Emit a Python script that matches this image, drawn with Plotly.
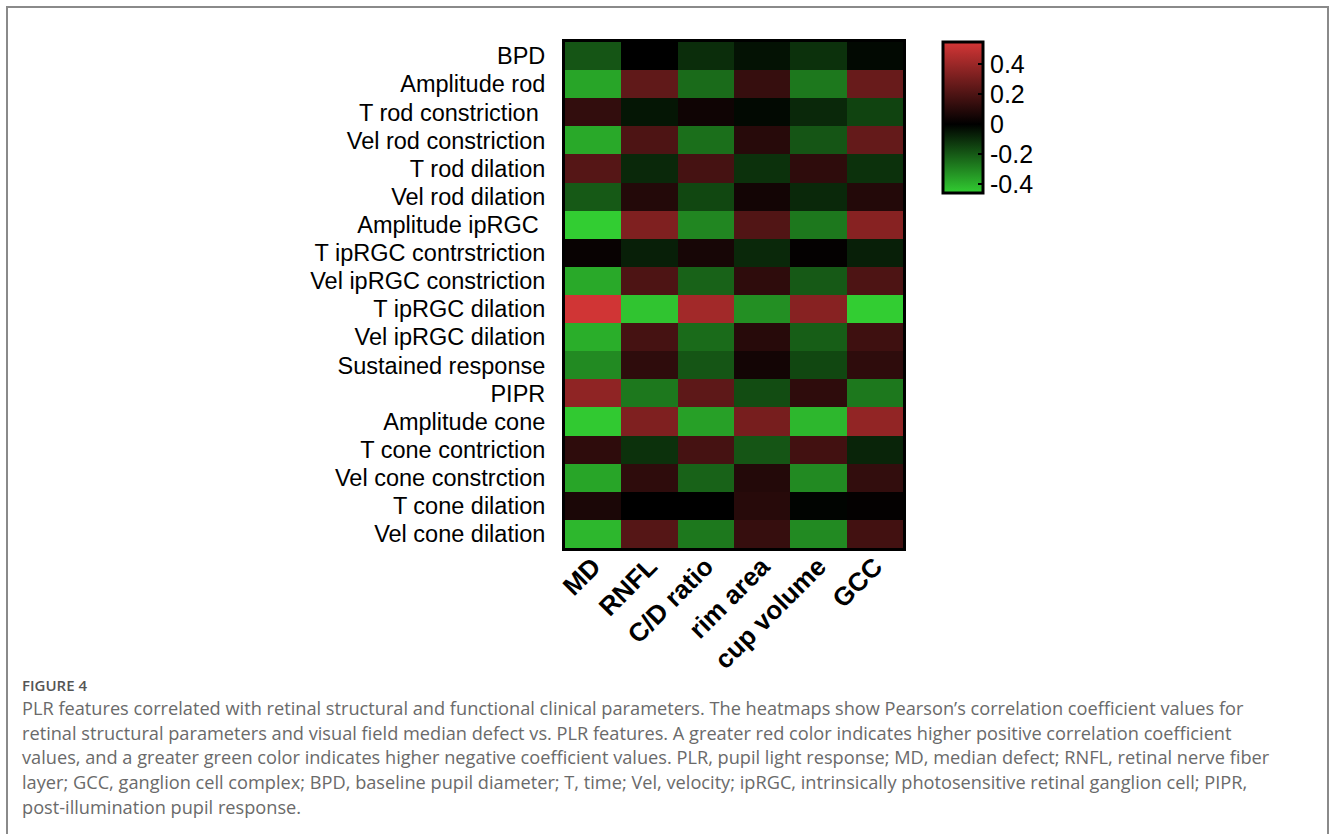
import plotly.graph_objects as go

# ---------------- data ----------------
features = [
    "BPD", "Amplitude rod", "T rod constriction\u00a0", "Vel rod constriction",
    "T rod dilation", "Vel rod dilation", "Amplitude ipRGC\u00a0", "T ipRGC contrstriction",
    "Vel ipRGC constriction", "T ipRGC dilation", "Vel ipRGC dilation", "Sustained response",
    "PIPR", "Amplitude cone", "T cone contriction", "Vel cone constrction",
    "T cone dilation", "Vel cone dilation",
]
params = ["MD", "RNFL", "C/D ratio", "rim area", "cup volume", "GCC"]

md   = [-0.19, -0.37, 0.13, -0.38, 0.22, -0.20, -0.46, 0.02, -0.38, 0.54, -0.39, -0.31, 0.37, -0.45, 0.12, -0.37, 0.07, -0.41]
rnfl = [0.00, 0.25, -0.05, 0.20, -0.09, 0.09, 0.33, -0.07, 0.20, -0.44, 0.18, 0.12, -0.27, 0.33, -0.11, 0.12, 0.00, 0.22]
cdr  = [-0.10, -0.24, 0.04, -0.25, 0.18, -0.16, -0.30, 0.06, -0.22, 0.42, -0.24, -0.19, 0.24, -0.36, 0.18, -0.22, 0.00, -0.27]
rim  = [-0.04, 0.14, -0.02, 0.10, -0.11, 0.05, 0.21, -0.09, 0.12, -0.32, 0.10, 0.05, -0.17, 0.31, -0.19, 0.09, 0.10, 0.14]
cup  = [-0.11, -0.27, -0.09, -0.19, 0.12, -0.09, -0.27, 0.01, -0.20, 0.35, -0.21, -0.16, 0.12, -0.41, 0.17, -0.31, -0.01, -0.31]
gcc  = [-0.02, 0.27, -0.15, 0.26, -0.11, 0.09, 0.35, -0.07, 0.20, -0.46, 0.16, 0.12, -0.27, 0.38, -0.08, 0.13, 0.01, 0.17]

cbar_ticks = [0.4, 0.2, 0, -0.2, -0.4]
cbar_ticktext = ["0.4", "0.2", "0", "-0.2", "-0.4"]

caption_title = "FIGURE 4"
caption_lines = [
    "PLR features correlated with retinal structural and functional clinical parameters. The heatmaps show Pearson’s correlation coefficient values for",
    "retinal structural parameters and visual field median defect vs. PLR features. A greater red color indicates higher positive correlation coefficient",
    "values, and a greater green color indicates higher negative coefficient values. PLR, pupil light response; MD, median defect; RNFL, retinal nerve fiber",
    "layer; GCC, ganglion cell complex; BPD, baseline pupil diameter; T, time; Vel, velocity; ipRGC, intrinsically photosensitive retinal ganglion cell; PIPR,",
    "post-illumination pupil response.",
]

# ---------------- layout constants ----------------
W, H = 1330, 834
ZMIN, ZMAX = -0.46, 0.55

def px(x):
    return x / W

def py(y):
    return 1 - y / H

z = [list(row) for row in zip(md, rnfl, cdr, rim, cup, gcc)]

black_pos = (0 - ZMIN) / (ZMAX - ZMIN)
colorscale = [
    [0.0, "rgb(50,205,50)"],
    [black_pos, "rgb(0,0,0)"],
    [1.0, "rgb(212,54,54)"],
]

fig = go.Figure()
fig.add_trace(go.Heatmap(
    z=z, x=[f"<b>{p}</b>" for p in params], y=features,
    zmin=ZMIN, zmax=ZMAX, colorscale=colorscale,
    hoverongaps=False,
    colorbar=dict(
        x=px(943), xanchor="left", xref="paper",
        y=py(42), yanchor="top", yref="paper",
        len=151, lenmode="pixels",
        thickness=40, thicknessmode="pixels",
        outlinewidth=3, outlinecolor="black",
        tickvals=cbar_ticks, ticktext=cbar_ticktext,
        ticks="inside", ticklen=6, tickwidth=2, tickcolor="black",
        tickfont=dict(family="Liberation Sans, Arial", size=25, color="black"),
        ypad=0, xpad=0,
    ),
))

fig.update_layout(
    width=W, height=H,
    margin=dict(l=0, r=0, t=0, b=0),
    paper_bgcolor="white", plot_bgcolor="white",
    xaxis=dict(
        domain=[px(565), px(903)],
        tickangle=-45, ticks="", showgrid=False, zeroline=False,
        showline=True, linecolor="black", linewidth=3, mirror=True,
        tickfont=dict(family="Liberation Sans, Arial", size=26, color="black"),
        ticklabelstandoff=-10,
        automargin=False, fixedrange=True,
    ),
    yaxis=dict(
        domain=[py(548), py(42)],
        autorange="reversed", ticks="", showgrid=False, zeroline=False,
        showline=True, linecolor="black", linewidth=3, mirror=True,
        tickfont=dict(family="Liberation Sans, Arial", size=23.5, color="black"),
        ticklabelstandoff=12,
        automargin=False, fixedrange=True,
    ),
    showlegend=False,
)

# outer figure frame (grey)
fig.add_shape(type="rect", xref="paper", yref="paper",
              x0=px(7), x1=px(1328), y0=py(900), y1=py(7),
              line=dict(color="#8a8a8a", width=2), fillcolor="rgba(0,0,0,0)", layer="below")

# caption
fig.add_annotation(text=caption_title, xref="paper", yref="paper",
                   x=px(20), y=py(685), xanchor="left", yanchor="middle", showarrow=False,
                   font=dict(family="Open Sans", size=15, color="#555555", weight=600))
for i, line in enumerate(caption_lines):
    fig.add_annotation(text=line, xref="paper", yref="paper",
                       x=px(20), y=py(708 + i * 24.7), xanchor="left", yanchor="middle",
                       showarrow=False,
                       font=dict(family="Open Sans", size=18.2, color="#6a6a6a"))

fig.write_html("out.html")
